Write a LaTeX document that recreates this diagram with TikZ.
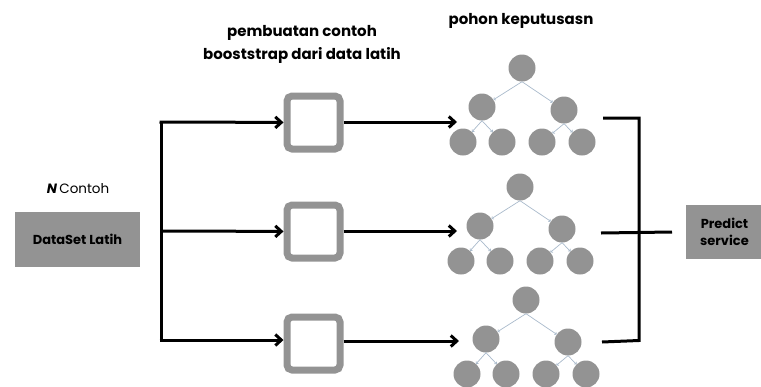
\documentclass[tikz,border=0pt]{standalone}
\usepackage{fontspec}
\setmainfont{Poppins}
\usetikzlibrary{arrows.meta}
\definecolor{abu}{HTML}{939393}
\definecolor{garis}{HTML}{A9BACB}
\tikzset{
 panah/.style={line width=3pt,-{Straight Barb[length=6pt,width=11pt]}},
 kurung/.style={line width=3pt},
 kotakabu/.style={fill=abu,inner sep=0pt,font=\bfseries\fontsize{13}{17}\selectfont,align=center},
 sampel/.style={draw=abu,line width=7pt,rounded corners=5pt,minimum size=53pt,inner sep=0pt},
 simpul/.style={circle,fill=abu,minimum size=27pt,inner sep=0pt},
 cabang/.style={draw=garis,line width=0.7pt,-{To[length=2pt,width=3.5pt]}},
 judul/.style={font=\bfseries\fontsize{15}{23}\selectfont,align=center}
}
% pohon: #1 awalan nama, #2 posisi akar
\newcommand\pohon[2]{
 \node[simpul] (#1r) at (#2) {};
 \node[simpul] (#1a) at ($(#2)+(-40,39)$) {};
 \node[simpul] (#1b) at ($(#2)+(42,42)$) {};
 \node[simpul] (#1c) at ($(#2)+(-59,74)$) {};
 \node[simpul] (#1d) at ($(#2)+(-20,74)$) {};
 \node[simpul] (#1e) at ($(#2)+(20,74)$) {};
 \node[simpul] (#1f) at ($(#2)+(60,74)$) {};
 \draw[cabang] (#1r.south) -- (#1a);
 \draw[cabang] (#1r.south) -- (#1b);
 \draw[cabang] (#1a.south) -- (#1c);
 \draw[cabang] (#1a.south) -- (#1d);
 \draw[cabang] (#1b.south) -- (#1e);
 \draw[cabang] (#1b.south) -- (#1f);
}
\usetikzlibrary{calc}
\begin{document}
\begin{tikzpicture}[x=1pt,y=-1pt]
 \useasboundingbox (0,0) rectangle (761,386);
 % judul
 \node[judul] (jsampel) at (302,44) {pembuatan contoh\\booststrap dari data latih};
 \node[judul] (jpohon) at (521,21) {pohon keputusasn};
 % data latih
 \node[font=\fontsize{13.5}{16}\selectfont] (ncontoh) at (78,189) {\textbf{\textit{N}}\,Contoh};
 \node[kotakabu,minimum width=125pt,minimum height=55pt] (data) at (77.5,239.5) {DataSet Latih};
 % cabang ke tiga sampel
 \coordinate (atas) at (161,122);
 \coordinate (tengah) at (161,231);
 \coordinate (bawah) at (161,340);
 \draw[kurung] (atas) -- (bawah);
 \node[sampel] (s1) at (313.5,122.5) {};
 \node[sampel] (s2) at (313.5,231.5) {};
 \node[sampel] (s3) at (313.5,343.5) {};
 \draw[panah] ([xshift=-1.5pt]atas) -- (s1);
 \draw[panah] (tengah) -- (s2);
 \draw[panah] ([xshift=-1.5pt]bawah) -- (bawah -| s3.west) ;
 % pohon keputusan
 \pohon{p}{522,68}
 \pohon{q}{520,187}
 \pohon{t}{526,300}
 \coordinate (m1) at (457,122);
 \coordinate (m2) at (457,231);
 \coordinate (m3) at (459,341);
 \draw[panah] (s1.east |- m1) -- (m1);
 \draw[panah] (s2.east |- m2) -- (m2);
 \draw[panah] (s3.east |- m3) -- (m3);
 % penggabungan
 \coordinate (k1) at (603,118);
 \coordinate (k2) at (601,233);
 \coordinate (k3) at (602,342);
 \coordinate (kv) at (639,233);
 \draw[kurung] (k1) -| ([yshift=1.5pt]k3 -| kv) -- (k3);
 \node[kotakabu,minimum width=77pt,minimum height=54pt] (predict) at (724.5,232) {Predict\\service};
 \draw[kurung] (k2) -- (predict.west -| 672,0);
\end{tikzpicture}
\end{document}
